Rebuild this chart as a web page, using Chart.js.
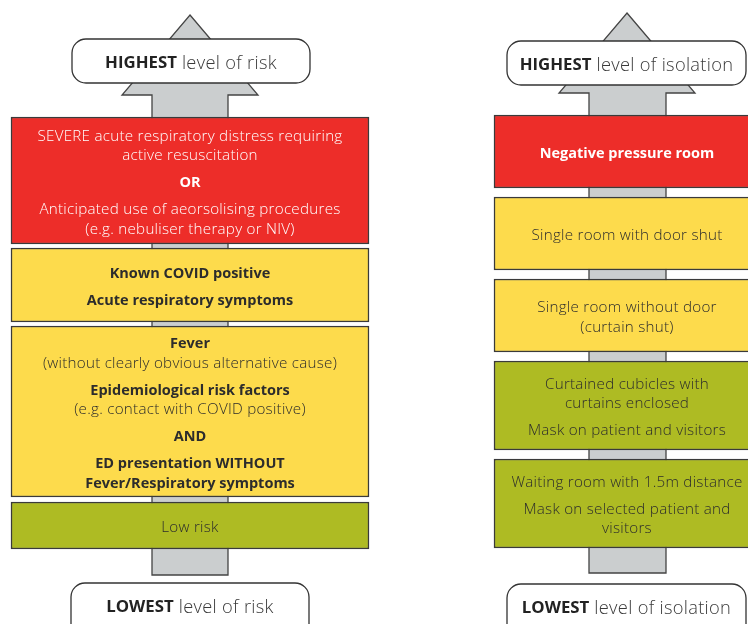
<!DOCTYPE html>
<html><head><meta charset="utf-8">
<script src="https://cdn.jsdelivr.net/npm/chart.js@4/dist/chart.umd.min.js"></script>
<style>html,body{margin:0;padding:0;background:#fff;overflow:hidden}canvas{display:block}</style>
</head><body>
<canvas id="c" width="748" height="624"></canvas>
<script>
// ---------- content (data) ----------
const riskTitles = ['HIGHEST|level of risk', 'LOWEST|level of risk'];
const isolationTitles = ['HIGHEST|level of isolation', 'LOWEST|level of isolation'];
// tier of each box: 3 = high (red), 2 = medium (yellow), 1 = low (green)
const riskTiers = [3, 2, 2, 1];
const isolationTiers = [3, 2, 2, 1, 1];
// box texts: paragraphs of lines; '**' marks a bold line
const riskTexts = [
  [['SEVERE acute respiratory distress requiring', 'active resuscitation'], ['**OR'], ['Anticipated use of aeorsolising procedures', '(e.g. nebuliser therapy or NIV)']],
  [['**Known COVID positive'], ['**Acute respiratory symptoms']],
  [['**Fever', '(without clearly obvious alternative cause)'], ['**Epidemiological risk factors', '(e.g. contact with COVID positive)'], ['**AND'], ['**ED presentation WITHOUT', '**Fever/Respiratory symptoms']],
  [['Low risk']]
];
const isolationTexts = [
  [['**Negative pressure room']],
  [['Single room with door shut']],
  [['Single room without door', '(curtain shut)']],
  [['Curtained cubicles with', 'curtains enclosed'], ['Mask on patient and visitors']],
  [['Waiting room with 1.5m distance'], ['Mask on selected patient and', 'visitors']]
];

// ---------- layout (diagram units = pixels) ----------
const LEFT = {
  arrow: {tipX: 190, tipY: 15, headY: 95, headX0: 122, headX1: 258, shaftX0: 152, shaftX1: 228, bottom: 575},
  top: {x0: 72, x1: 310, y0: 39, y1: 83},
  bot: {x0: 71, x1: 309, y0: 583, y1: 650},
  boxX: [11, 369],
  boxY: [[117, 244], [248, 322], [326, 497], [502, 549]]
};
const RIGHT = {
  arrow: {tipX: 627, tipY: 13, headY: 93, headX0: 559, headX1: 695, shaftX0: 589, shaftX1: 666, bottom: 573},
  top: {x0: 507, x1: 746, y0: 41, y1: 85},
  bot: {x0: 507, x1: 746, y0: 584, y1: 650},
  boxX: [494, 760],
  boxY: [[115, 188], [197, 270], [279, 352], [361, 450], [459, 548]]
};
const TIER_COLORS = {3: '#ed2d29', 2: '#fddb4c', 1: '#aebb23'};
const TEXT_COLORS = {3: '#ffffff', 2: '#2c2c2c', 1: '#2c2c2c'};
const FONT = '"Open Sans", "Noto Sans", sans-serif';

function boxDatasets(panel, tiers) {
  return tiers.map((t, i) => {
    const [y0, y1] = panel.boxY[i];
    return {
      data: [{x: [panel.boxX[0], panel.boxX[1]], y: (y0 + y1) / 2}],
      barThickness: y1 - y0,
      backgroundColor: TIER_COLORS[t],
      borderColor: '#3a3a3a',
      borderWidth: 1.5,
      borderSkipped: false,
      grouped: false
    };
  });
}

function drawArrow(ctx, X, Y, a) {
  ctx.save();
  ctx.beginPath();
  ctx.moveTo(X(a.tipX), Y(a.tipY));
  ctx.lineTo(X(a.headX1), Y(a.headY));
  ctx.lineTo(X(a.shaftX1), Y(a.headY));
  ctx.lineTo(X(a.shaftX1), Y(a.bottom));
  ctx.lineTo(X(a.shaftX0), Y(a.bottom));
  ctx.lineTo(X(a.shaftX0), Y(a.headY));
  ctx.lineTo(X(a.headX0), Y(a.headY));
  ctx.closePath();
  ctx.fillStyle = '#cbcecf';
  ctx.fill();
  ctx.strokeStyle = '#444';
  ctx.lineWidth = 1.3;
  ctx.stroke();
  ctx.restore();
}

function drawLabel(ctx, X, Y, b, text) {
  const x0 = X(b.x0), x1 = X(b.x1), y0 = Y(b.y0), y1 = Y(b.y1);
  ctx.save();
  ctx.beginPath();
  ctx.roundRect(x0, y0, x1 - x0, y1 - y0, 14);
  ctx.fillStyle = '#fff';
  ctx.fill();
  ctx.strokeStyle = '#333';
  ctx.lineWidth = 1.3;
  ctx.stroke();
  const [boldPart, normalPart] = text.split('|');
  const cx = (x0 + x1) / 2, cy = y0 + 24.5;
  const FB = 'bold 16.8px ' + FONT, FN = '300 18.3px ' + FONT;
  ctx.letterSpacing = '0px';
  ctx.font = FB;
  const wb = ctx.measureText(boldPart).width;
  ctx.letterSpacing = '0.3px';
  ctx.font = FN;
  const ws = ctx.measureText(' ').width;
  const wn = ctx.measureText(normalPart).width;
  let x = cx - (wb + ws + wn) / 2;
  ctx.textBaseline = 'middle';
  ctx.textAlign = 'left';
  ctx.letterSpacing = '0px';
  ctx.font = FB;
  ctx.fillStyle = '#222';
  ctx.fillText(boldPart, x, cy);
  ctx.letterSpacing = '0.3px';
  ctx.font = FN;
  ctx.fillStyle = '#3a3a3a';
  ctx.fillText(normalPart, x + wb + ws, cy);
  ctx.restore();
}

function drawParas(ctx, paras, cx, cy, color) {
  const LH = 19.5, PG = 27;
  let total = 0;
  paras.forEach((p, i) => { total += (p.length - 1) * LH + (i ? PG : 0); });
  let y = cy - total / 2;
  ctx.save();
  ctx.textAlign = 'center';
  ctx.textBaseline = 'middle';
  ctx.fillStyle = color;
  paras.forEach((p, i) => {
    if (i) y += PG;
    p.forEach((line, j) => {
      if (j) y += LH;
      const bold = line.startsWith('**');
      ctx.letterSpacing = bold ? '0px' : '0.25px';
      ctx.font = bold ? 'bold 14.5px ' + FONT : '300 15.2px ' + FONT;
      ctx.fillText(bold ? line.slice(2) : line, cx, y);
    });
  });
  ctx.restore();
}

const diagramPlugin = {
  id: 'diagram',
  beforeDatasetsDraw(chart) {
    const {ctx, scales: {x, y}} = chart;
    const X = v => x.getPixelForValue(v), Y = v => y.getPixelForValue(v);
    drawArrow(ctx, X, Y, LEFT.arrow);
    drawArrow(ctx, X, Y, RIGHT.arrow);
  },
  afterDatasetsDraw(chart) {
    const {ctx, scales: {x, y}} = chart;
    const X = v => x.getPixelForValue(v), Y = v => y.getPixelForValue(v);
    drawLabel(ctx, X, Y, LEFT.top, riskTitles[0]);
    drawLabel(ctx, X, Y, LEFT.bot, riskTitles[1]);
    drawLabel(ctx, X, Y, RIGHT.top, isolationTitles[0]);
    drawLabel(ctx, X, Y, RIGHT.bot, isolationTitles[1]);
    [[LEFT, riskTexts, riskTiers], [RIGHT, isolationTexts, isolationTiers]].forEach(([panel, texts, tiers]) => {
      texts.forEach((paras, i) => {
        const [y0, y1] = panel.boxY[i];
        drawParas(ctx, paras, X((panel.boxX[0] + panel.boxX[1]) / 2), Y((y0 + y1) / 2 + 2.2), TEXT_COLORS[tiers[i]]);
      });
    });
  }
};

new Chart(document.getElementById('c'), {
  type: 'bar',
  data: {datasets: [...boxDatasets(LEFT, riskTiers), ...boxDatasets(RIGHT, isolationTiers)]},
  options: {
    indexAxis: 'y',
    responsive: false,
    animation: false,
    events: [],
    layout: {padding: 0},
    scales: {
      x: {type: 'linear', min: 0, max: 748, display: false, offset: false},
      y: {type: 'linear', min: 0, max: 624, reverse: true, display: false, offset: false}
    },
    plugins: {legend: {display: false}, tooltip: {enabled: false}}
  },
  plugins: [diagramPlugin]
});
</script>
</body></html>
